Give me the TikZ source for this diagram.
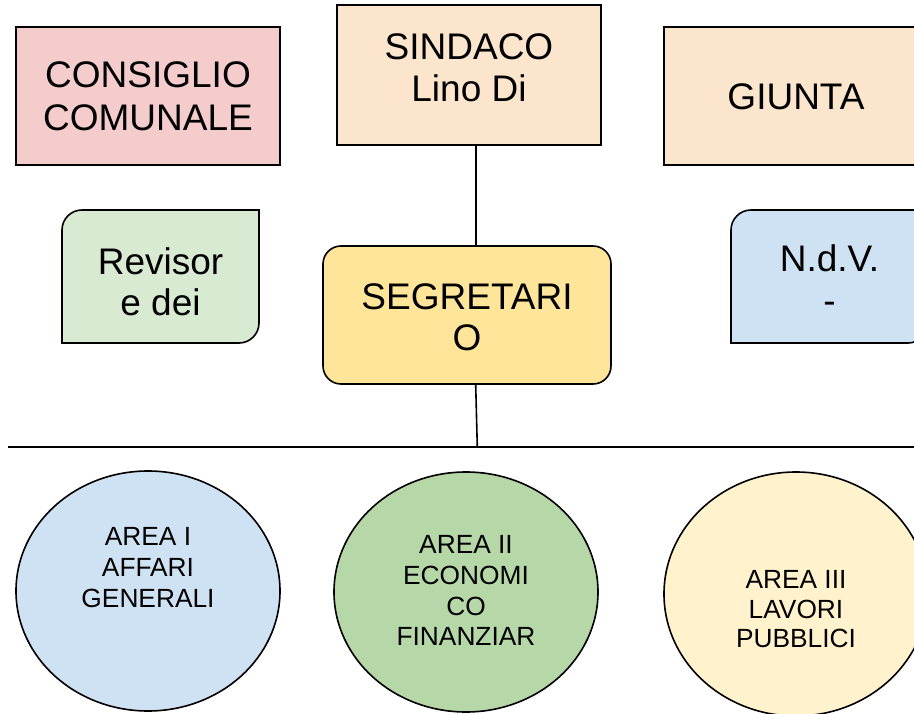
\documentclass[tikz,border=0pt]{standalone}
\usepackage{fontspec}
\setmainfont{Liberation Sans}
\usetikzlibrary{shapes.geometric}
\definecolor{cpink}{HTML}{F4CCCC}
\definecolor{cpeach}{HTML}{FCE5CD}
\definecolor{cgreen}{HTML}{D9EAD3}
\definecolor{cblue}{HTML}{CFE2F3}
\definecolor{cyellow}{HTML}{FFE599}
\definecolor{egreen}{HTML}{B6D7A8}
\definecolor{eyellow}{HTML}{FFF2CC}
\begin{document}
\begin{tikzpicture}[x=1pt,y=-1pt,
  box/.style={draw=black,line width=1.6pt,inner sep=0pt,rectangle},
  shapeline/.style={draw=black,line width=1.6pt},
  big/.style={anchor=base,inner sep=0pt,font=\fontsize{37}{42}\selectfont},
  small/.style={anchor=base,inner sep=0pt,font=\fontsize{26.3}{31}\selectfont},
  area/.style={draw=black,line width=1.6pt,ellipse,inner sep=0pt,minimum width=264pt,minimum height=240pt},
  conn/.style={draw=black,line width=1.6pt}]
\useasboundingbox (0,0) rectangle (914,714);
\fill[white] (0,0) rectangle (914,714);
\clip (0,0) rectangle (914,714);

% top boxes
\node[box,fill=cpink,minimum width=264pt,minimum height=138pt] (cons) at (148,96) {};
\node[box,fill=cpeach,minimum width=264pt,minimum height=140pt] (sind) at (469,75) {};
\node[box,fill=cpeach,minimum width=264pt,minimum height=138pt] (giun) at (796,96) {};

% side boxes with two rounded corners
\filldraw[shapeline,fill=cgreen] (62,343) [rounded corners=20pt] -- (62,210) [sharp corners] -- (259,210) [rounded corners=20pt] -- (259,343) [sharp corners] -- cycle;
\filldraw[shapeline,fill=cblue] (731,343) [rounded corners=20pt] -- (731,210) [sharp corners] -- (928,210) [rounded corners=20pt] -- (928,343) [sharp corners] -- cycle;

% segretario
\node[box,fill=cyellow,rounded corners=18pt,minimum width=288pt,minimum height=138pt] (seg) at (467,315) {};

% connectors
\coordinate (hl) at (8,447);
\coordinate (hr) at (914,447);
\coordinate (hm) at (477.3,447);
\draw[conn] ([xshift=6.7pt]sind.south) -- ([xshift=8.7pt]seg.north);
\draw[conn] ([xshift=8.7pt]seg.south) -- (hm);
\draw[conn] (hl) -- (hr);

% ellipses
\node[area,fill=cblue] (a1) at (148,591) {};
\node[area,fill=egreen] (a2) at (466,592) {};
\node[area,fill=eyellow,minimum height=244pt] (a3) at (796,594) {};

% texts
\node[big] (t1) at (148,88) {CONSIGLIO};
\node[big] (t2) at (148,131) {COMUNALE};
\node[big] (t3) at (469,60) {SINDACO};
\node[big] (t4) at (469,102) {Lino Di};
\node[big] (t5) at (796,110) {GIUNTA};
\node[big] (t6) at (160.5,275) {Revisor};
\node[big] (t7) at (160.5,316) {e dei};
\node[big] (t8) at (829.5,272) {N.d.V.};
\node[big] (t9) at (829.5,314) {-};
\node[big] (t10) at (467,310) {SEGRETARI};
\node[big] (t11) at (467,351) {O};

\node[small] (s1) at (148,545) {AREA I};
\node[small] (s2) at (148,576) {AFFARI};
\node[small] (s3) at (148,607) {GENERALI};
\node[small] (s4) at (466,553) {AREA II};
\node[small] (s5) at (466,584) {ECONOMI};
\node[small] (s6) at (466,615) {CO};
\node[small] (s7) at (466,645) {FINANZIAR};
\node[small] (s8) at (796,588) {AREA III};
\node[small] (s9) at (796,618) {LAVORI};
\node[small] (s10) at (796,647) {PUBBLICI};
\end{tikzpicture}
\end{document}
